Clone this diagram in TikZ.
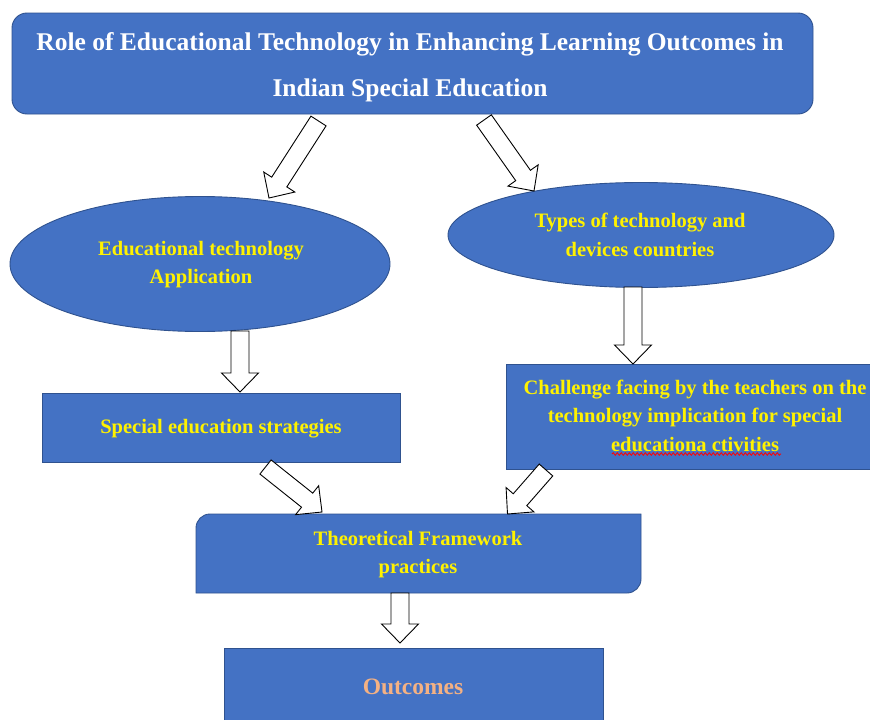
\documentclass[tikz,border=0pt]{standalone}
\usepackage{fontspec}
\setmainfont{Liberation Serif}
\usetikzlibrary{calc,shapes.geometric,decorations.pathmorphing}
\definecolor{boxblue}{HTML}{4472C4}
\definecolor{boxedge}{HTML}{2F528F}
\definecolor{outc}{HTML}{F4B183}
\tikzset{
  bluebox/.style={fill=boxblue, draw=boxedge, line width=0.9pt},
  shapenode/.style={inner sep=0pt, outer sep=0pt},
  ytext/.style={text=yellow, font=\fontsize{20.5}{28.5}\selectfont\bfseries, align=center, inner sep=0pt},
  ttext/.style={text=white, font=\fontsize{25.5}{46}\selectfont\bfseries, align=center, inner sep=0pt},
  otext/.style={text=outc, font=\fontsize{23.5}{28}\selectfont\bfseries, inner sep=0pt},
  barrow/.style={draw=black, fill=white, line width=0.9pt, line join=miter},
}
\newcommand{\blockarrow}[2]{%
  \coordinate (h#1) at ($(#2)!19pt!(#1)$);
  \draw[barrow] ($(#1)!9pt!90:(#2)$) -- ($(h#1)!9pt!90:(#2)$) -- ($(h#1)!18.5pt!90:(#2)$) -- (#2)
    -- ($(h#1)!18.5pt!-90:(#2)$) -- ($(h#1)!9pt!-90:(#2)$) -- ($(#1)!9pt!-90:(#2)$) -- cycle;
}
\begin{document}
\begin{tikzpicture}[x=1pt,y=-1pt]
\clip (0,0) rectangle (870,720);
\fill[white] (0,0) rectangle (870,720);

% title
\node[bluebox, shapenode, rounded corners=15pt, minimum width=801pt, minimum height=101pt] (title) at (412.5,63.5) {};
\node[ttext] (titleT) at (410,67.5) {Role of Educational Technology in Enhancing Learning Outcomes in\\Indian Special Education};

% ellipses
\node[bluebox, shapenode, ellipse, minimum width=380pt, minimum height=135pt] (app) at (200,264) {};
\node[ytext] (appT) at (201,264.5) {Educational technology\\Application};
\node[bluebox, shapenode, ellipse, minimum width=386pt, minimum height=105pt] (types) at (641,235) {};
\node[ytext] (typesT) at (640,235) {Types of technology and\\devices countries};

% special education strategies
\node[bluebox, shapenode, minimum width=358pt, minimum height=69pt] (strat) at (221,427.5) {};
\node[ytext] (stratT) at (221,428.5) {Special education strategies};

% challenge box
\node[bluebox, shapenode, minimum width=369pt, minimum height=105pt] (chal) at (690.5,416.5) {};
\node[ytext] (chalT) at (695,415.5) {Challenge facing by the teachers on the\\technology implication for special\\educationa ctivities};
\draw[red, line width=0.8pt, decorate, decoration={snake, amplitude=1.3pt, segment length=4pt}] (612,454) -- (781,454);

% theoretical framework
\node[shapenode, minimum width=445pt, minimum height=79pt] (theo) at (418.5,553.5) {};
\draw[bluebox] (theo.south west) -- ($(theo.north west)+(0,14)$)
  .. controls ($(theo.north west)+(0,6.3)$) and ($(theo.north west)+(6.3,0)$) .. ($(theo.north west)+(14,0)$)
  -- (theo.north east) -- ($(theo.south east)+(0,-14)$)
  .. controls ($(theo.south east)+(0,-6.3)$) and ($(theo.south east)+(-6.3,0)$) .. ($(theo.south east)+(-14,0)$)
  -- cycle;
\node[ytext] (theoT) at (418,554.5) {Theoretical Framework\\practices};

% outcomes
\node[bluebox, shapenode, minimum width=379pt, minimum height=80pt] (outb) at (413.5,688) {};
\node[otext] (outT) at (413,686.5) {Outcomes};

% block arrows
\coordinate (a1s) at (318.5,121);  \coordinate (a1e) at (269,198);
\coordinate (a2s) at (484,120);    \coordinate (a2e) at (534,191);
\coordinate (a3s) at (633,287);    \coordinate (a3e) at (633,364);
\coordinate (a4s) at (240,331);    \coordinate (a4e) at (240,392);
\coordinate (a5s) at (265.5,467);  \coordinate (a5e) at (322,512);
\coordinate (a6s) at (546,470);    \coordinate (a6e) at (507.5,514);
\coordinate (a7s) at (400,593);    \coordinate (a7e) at (400,643);
\blockarrow{a1s}{a1e}
\blockarrow{a2s}{a2e}
\blockarrow{a3s}{a3e}
\blockarrow{a4s}{a4e}
\blockarrow{a5s}{a5e}
\blockarrow{a6s}{a6e}
\blockarrow{a7s}{a7e}
\end{tikzpicture}
\end{document}
